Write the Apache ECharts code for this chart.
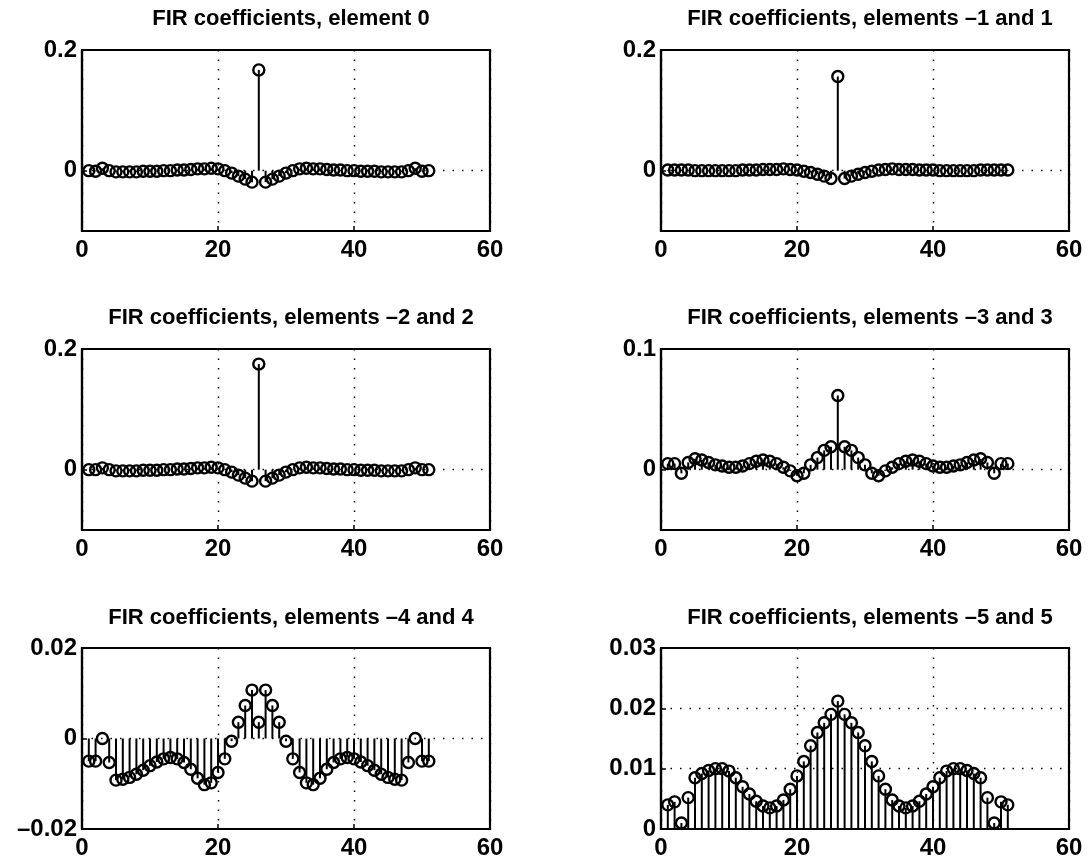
<!DOCTYPE html>
<html>
<head>
<meta charset="utf-8">
<script src="https://cdn.jsdelivr.net/npm/echarts@6/dist/echarts.min.js"></script>
<style>
  html, body { margin: 0; padding: 0; background: #fff; }
  #main { width: 1090px; height: 867px; }
</style>
</head>
<body>
<div id="main"></div>
<script>
// tap index of the 51-tap FIR filters
const taps = [1,2,3,4,5,6,7,8,9,10,11,12,13,14,15,16,17,18,19,20,21,22,23,24,25,26,
  27,28,29,30,31,32,33,34,35,36,37,38,39,40,41,42,43,44,45,46,47,48,49,50,51];

// coefficients
const elem0 = [0.000,-0.001,0.004,0.000,-0.002,-0.002,-0.002,-0.002,-0.001,-0.001,-0.001,0.000,0.000,
  0.001,0.001,0.002,0.003,0.003,0.004,0.003,0.000,-0.004,-0.009,-0.014,-0.019,0.167,
  -0.019,-0.014,-0.009,-0.004,0.000,0.003,0.004,0.003,0.003,0.002,0.001,0.001,0.000,
  0.000,-0.001,-0.001,-0.001,-0.002,-0.002,-0.002,-0.002,0.000,0.004,-0.001,0.000];

const elem1 = [0.001,0.001,0.001,0.001,0.000,0.000,0.000,0.000,0.000,0.000,0.000,0.001,0.001,
  0.001,0.002,0.002,0.002,0.003,0.002,0.001,-0.001,-0.003,-0.006,-0.009,-0.013,0.156,
  -0.013,-0.009,-0.006,-0.003,-0.001,0.001,0.002,0.003,0.002,0.002,0.002,0.001,0.001,
  0.001,0.000,0.000,0.000,0.000,0.000,0.000,0.001,0.001,0.001,0.001,0.001];

const elem2 = [0.000,0.000,0.003,0.000,-0.002,-0.002,-0.002,-0.002,-0.001,-0.001,-0.001,0.000,0.000,
  0.001,0.001,0.002,0.003,0.003,0.004,0.003,0.000,-0.004,-0.009,-0.014,-0.019,0.175,
  -0.019,-0.014,-0.009,-0.004,0.000,0.003,0.004,0.003,0.003,0.002,0.001,0.001,0.000,
  0.000,-0.001,-0.001,-0.001,-0.002,-0.002,-0.002,-0.002,0.000,0.003,0.000,0.000];

const elem3 = [0.005,0.005,-0.003,0.006,0.009,0.008,0.006,0.004,0.003,0.002,0.002,0.003,0.005,
  0.007,0.008,0.007,0.005,0.002,-0.001,-0.005,-0.003,0.004,0.010,0.016,0.019,0.0615,
  0.019,0.016,0.010,0.004,-0.003,-0.005,-0.001,0.002,0.005,0.007,0.008,0.007,0.005,
  0.003,0.002,0.002,0.003,0.004,0.006,0.008,0.009,0.006,-0.003,0.005,0.005];

const elem4 = [-0.0050,-0.0050,0.0000,-0.0053,-0.0092,-0.0090,-0.0086,-0.0079,-0.0070,-0.0060,
  -0.0052,-0.0045,-0.0042,-0.0045,-0.0053,-0.0068,-0.0088,-0.0102,-0.0098,-0.0075,
  -0.0045,-0.0006,0.0036,0.0073,0.0107,0.0036,0.0107,0.0073,0.0036,-0.0006,-0.0045,
  -0.0075,-0.0098,-0.0102,-0.0088,-0.0068,-0.0053,-0.0045,-0.0042,-0.0045,-0.0052,
  -0.0060,-0.0070,-0.0079,-0.0086,-0.0090,-0.0092,-0.0053,0.0000,-0.0050,-0.0050];

const elem5 = [0.0040,0.0045,0.0010,0.0052,0.0085,0.0092,0.0097,0.0100,0.0100,0.0096,0.0085,
  0.0070,0.0058,0.0046,0.0038,0.0035,0.0038,0.0048,0.0066,0.0088,0.0112,0.0138,0.0160,
  0.0176,0.0190,0.0212,0.0190,0.0176,0.0160,0.0138,0.0112,0.0088,0.0066,0.0048,0.0038,
  0.0035,0.0038,0.0046,0.0058,0.0070,0.0085,0.0096,0.0100,0.0100,0.0097,0.0092,0.0085,
  0.0052,0.0010,0.0045,0.0040];

const titles = [
  'FIR coefficients, element 0',
  'FIR coefficients, elements \u20131 and 1',
  'FIR coefficients, elements \u20132 and 2',
  'FIR coefficients, elements \u20133 and 3',
  'FIR coefficients, elements \u20134 and 4',
  'FIR coefficients, elements \u20135 and 5'
];
const series = [elem0, elem1, elem2, elem3, elem4, elem5];

// y range, labelled ticks and dotted grid rows per panel
const yMin = [-0.1, -0.1, -0.1, -0.05, -0.02, 0];
const yMax = [0.2, 0.2, 0.2, 0.1, 0.02, 0.03];
const yTicks = [[0, 0.2], [0, 0.2], [0, 0.2], [0, 0.1], [-0.02, 0, 0.02], [0, 0.01, 0.02, 0.03]];
const yGrid = [[0], [0], [0], [0], [0], [0.01, 0.02]];

const xTicks = [0, 20, 40, 60];

const FONT = '"Liberation Sans", Arial, sans-serif';
const lefts = [82, 661];
const tops = [50, 349, 648];
const titleTops = [3, 302, 602];
const W = 408, H = 181;

const fmt = v => v < 0 ? '\u2013' + String(-v) : String(v);
const dotted = { color: '#000', width: 1.4, type: [1.5, 8] };

const option = {
  animation: false,
  backgroundColor: '#fff',
  title: [], grid: [], xAxis: [], yAxis: [], series: []
};

series.forEach((vals, i) => {
  const col = i % 2, row = Math.floor(i / 2);
  option.grid.push({
    left: lefts[col], top: tops[row], width: W, height: H,
    show: true, borderColor: '#000', borderWidth: 2.2, backgroundColor: 'transparent'
  });
  option.title.push({
    text: titles[i],
    left: lefts[col] + W / 2, top: titleTops[row], textAlign: 'center',
    textStyle: { fontFamily: FONT, fontWeight: 'bold', fontSize: 22, color: '#000' }
  });
  option.xAxis.push({
    type: 'value', gridIndex: i, min: 0, max: 60, interval: 20,
    axisLine: { show: true, onZero: false, lineStyle: { color: '#000', width: 2.2 } },
    axisTick: { show: true, inside: true, length: 5, lineStyle: { color: '#000', width: 1.5 } },
    axisLabel: { fontFamily: FONT, fontWeight: 'bold', fontSize: 24, color: '#000', margin: 7,
      customValues: xTicks },
    splitLine: { show: true, lineStyle: dotted }
  });
  option.yAxis.push({
    type: 'value', gridIndex: i, min: yMin[i], max: yMax[i],
    axisLine: { show: true, onZero: false, lineStyle: { color: '#000', width: 2.2 } },
    axisTick: { show: true, inside: true, length: 5, customValues: yTicks[i],
      lineStyle: { color: '#000', width: 1.5 } },
    axisLabel: { fontFamily: FONT, fontWeight: 'bold', fontSize: 24, color: '#000', margin: 5,
      customValues: yTicks[i], formatter: fmt },
    splitLine: { show: false }
  });
  const pts = taps.map((t, k) => [t, vals[k]]);
  // stems
  option.series.push({
    type: 'bar', xAxisIndex: i, yAxisIndex: i, data: pts,
    barWidth: 2, itemStyle: { color: '#000' }, silent: true,
    markLine: {
      silent: true, symbol: 'none', label: { show: false },
      lineStyle: dotted,
      data: yGrid[i].map(v => ({ yAxis: v }))
    }
  });
  // open circle markers
  option.series.push({
    type: 'scatter', xAxisIndex: i, yAxisIndex: i, data: pts,
    symbol: 'circle', symbolSize: 11,
    itemStyle: { color: 'rgba(255,255,255,0)', borderColor: '#000', borderWidth: 2.4, opacity: 1 },
    silent: true
  });
});

const chart = echarts.init(document.getElementById('main'));
chart.setOption(option);
</script>
</body>
</html>
